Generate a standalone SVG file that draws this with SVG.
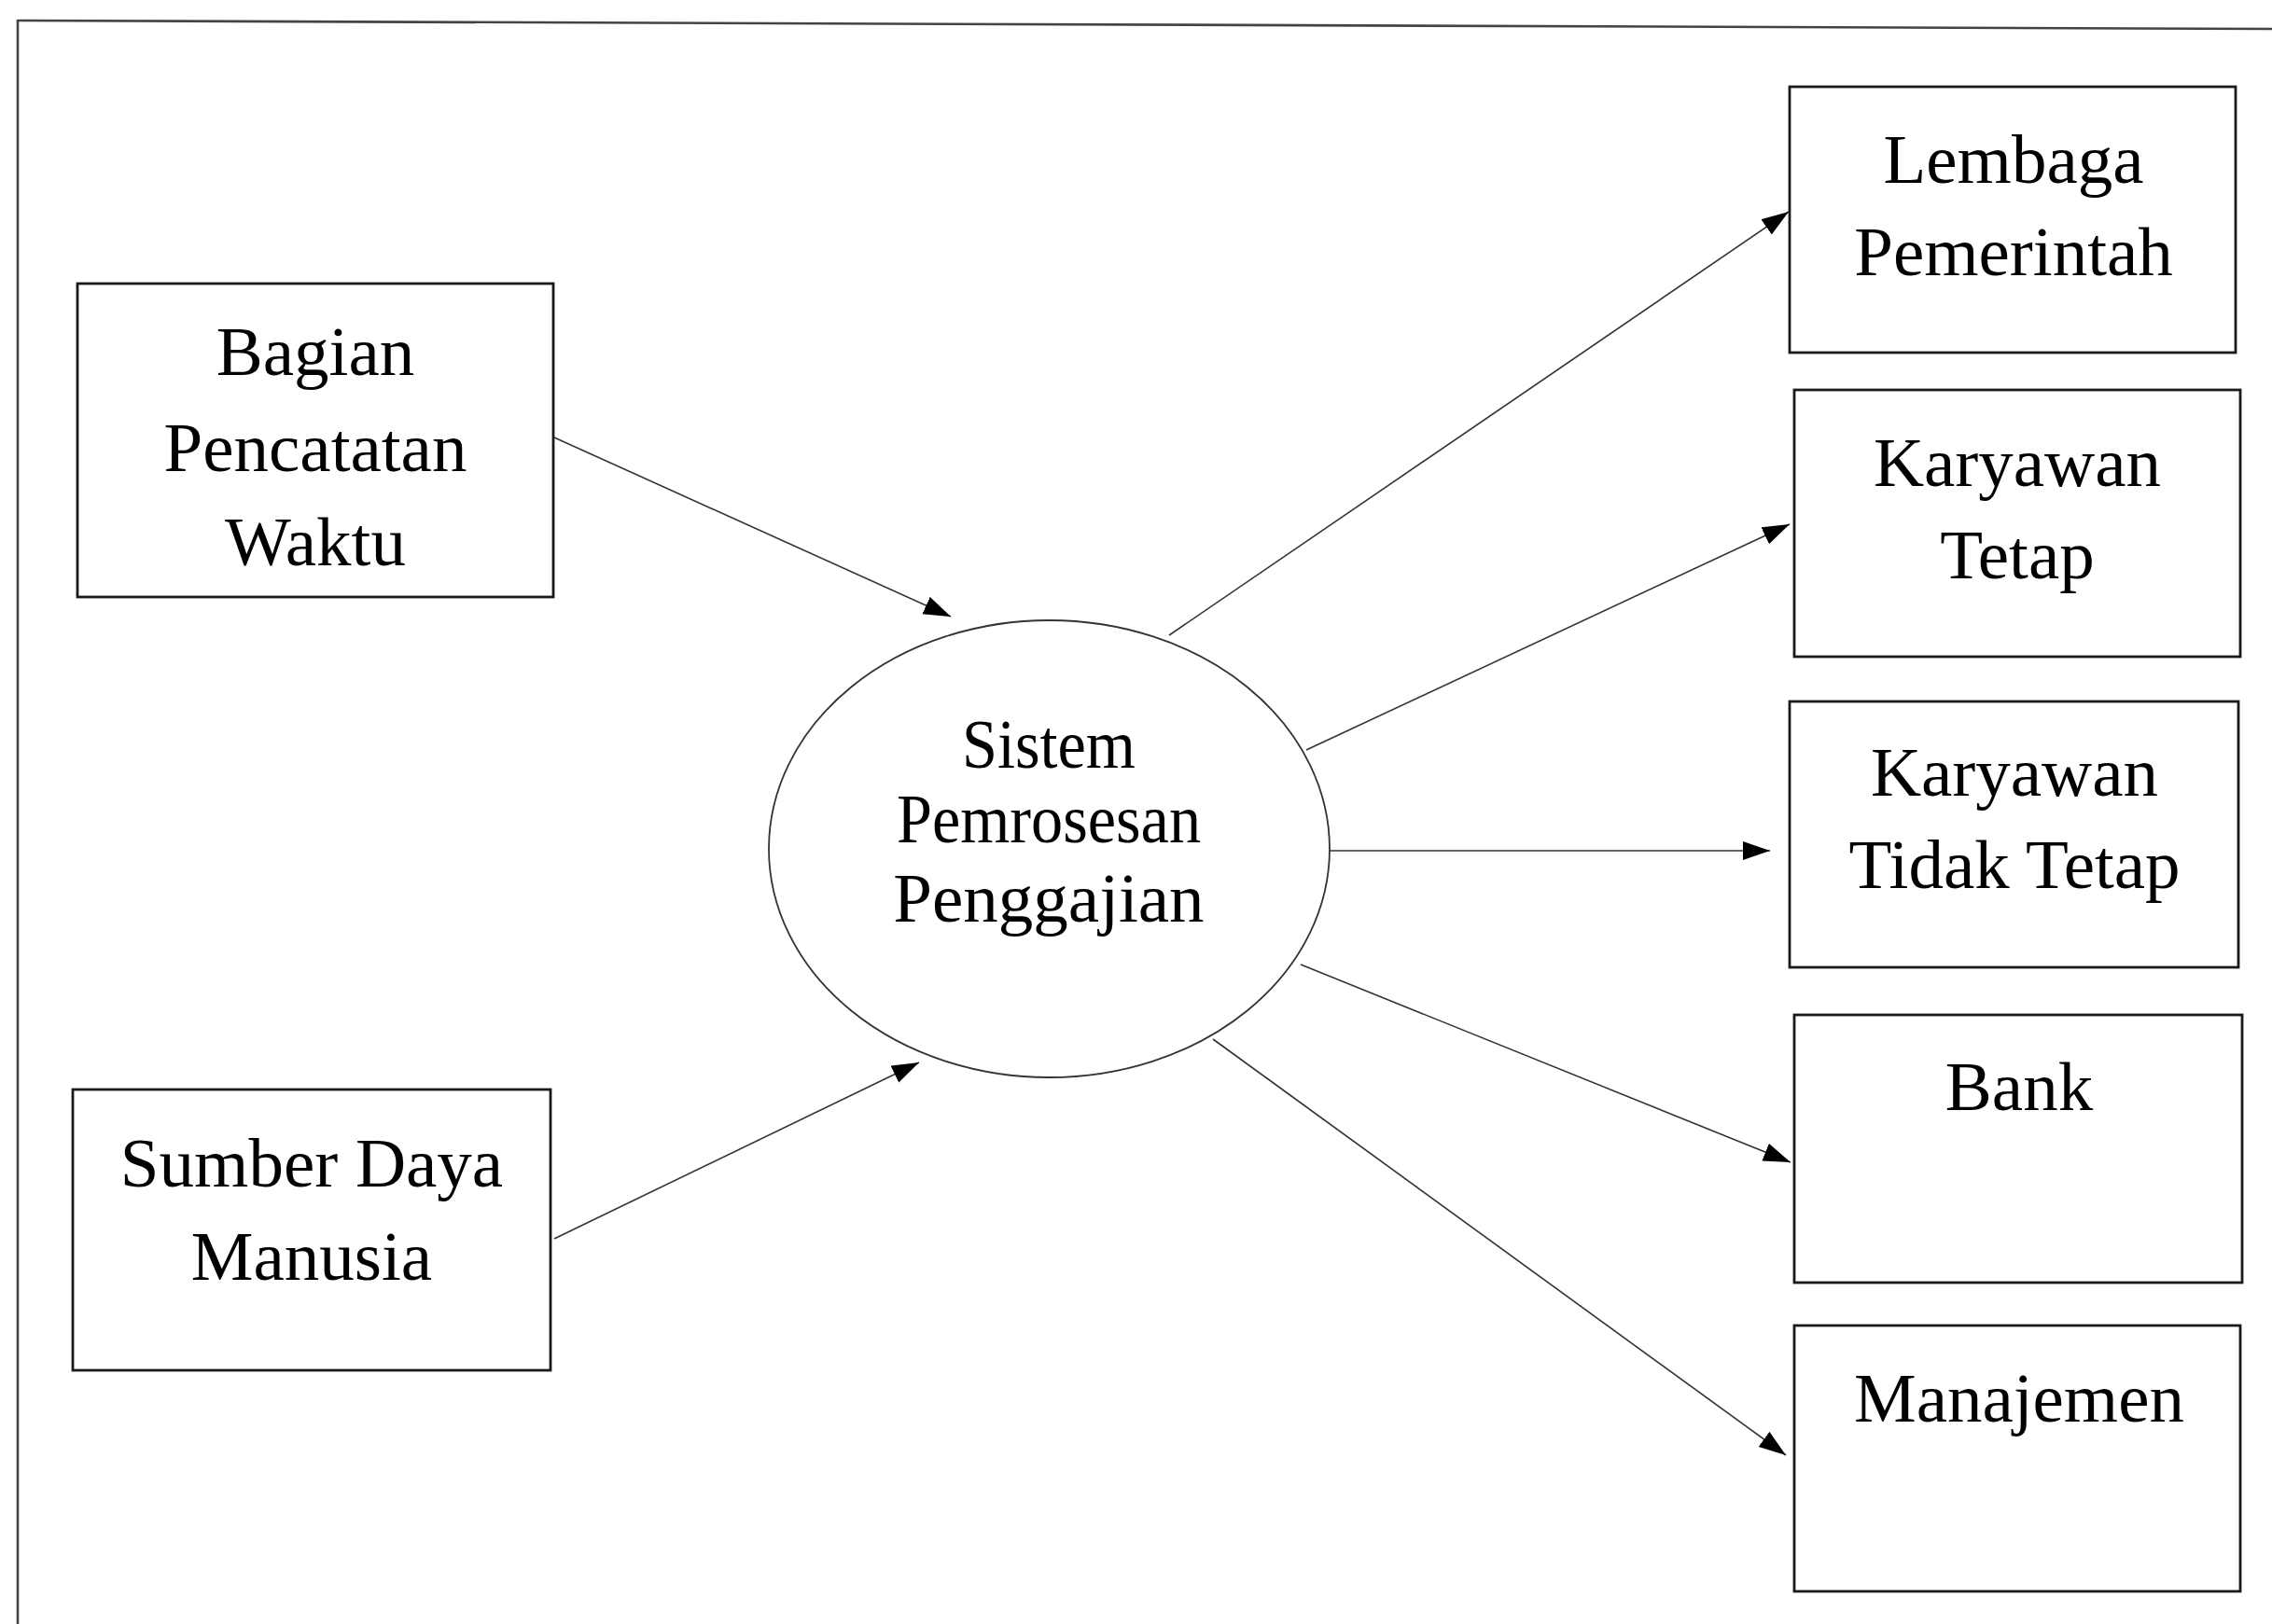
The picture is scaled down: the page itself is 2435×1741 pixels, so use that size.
<svg xmlns="http://www.w3.org/2000/svg" width="2435" height="1741" viewBox="0 0 2435 1741">
  <style>
    .box { fill: #ffffff; stroke: #1a1a1a; stroke-width: 2.8; }
    .proc { fill: #ffffff; stroke: #333333; stroke-width: 1.8; }
    .flow { fill: none; stroke: #333333; stroke-width: 1.6; marker-end: url(#head); }
    .lbl { font-family: "Liberation Serif", "Times New Roman", serif; font-size: 75px; fill: #000000; text-anchor: middle; }
    .frame { fill: none; stroke: #444444; stroke-width: 2.6; }
  </style>
  <defs>
    <marker id="head" markerUnits="userSpaceOnUse" markerWidth="32" markerHeight="22" refX="29" refY="10" orient="auto">
      <path d="M0,0 L29,10 L0,20 Z" fill="#000000"/>
    </marker>
  </defs>

  <rect width="2435" height="1741" fill="#ffffff"/>

  <!-- page frame: top rule and left edge -->
  <g id="frame">
    <line class="frame" x1="19" y1="22" x2="2435" y2="31" stroke="#777777"/>
    <line class="frame" x1="19" y1="21" x2="19" y2="1741"/>
  </g>

  <!-- data flows -->
  <g id="connectors">
    <line class="flow" x1="594" y1="469" x2="1019" y2="661"/>
    <line class="flow" x1="594" y1="1328" x2="985" y2="1139"/>
    <line class="flow" x1="1253" y1="681" x2="1917" y2="227"/>
    <line class="flow" x1="1400" y1="804" x2="1918" y2="562"/>
    <line class="flow" x1="1425" y1="912" x2="1897" y2="912"/>
    <line class="flow" x1="1394" y1="1034" x2="1919" y2="1246"/>
    <line class="flow" x1="1300" y1="1114" x2="1914" y2="1560"/>
  </g>

  <g id="bagian-pencatatan-waktu">
    <rect class="box" x="83" y="304" width="510" height="336"/>
    <text class="lbl" x="338" y="402">Bagian</text>
    <text class="lbl" x="338" y="505">Pencatatan</text>
    <text class="lbl" x="338" y="606">Waktu</text>
  </g>

  <g id="sumber-daya-manusia">
    <rect class="box" x="78" y="1168" width="512" height="301"/>
    <text class="lbl" x="334" y="1272">Sumber Daya</text>
    <text class="lbl" x="334" y="1372">Manusia</text>
  </g>

  <g id="sistem-pemrosesan-penggajian">
    <ellipse class="proc" cx="1124.5" cy="910" rx="300.5" ry="245"/>
    <text class="lbl" x="1124" y="823" font-size="70" textLength="186" lengthAdjust="spacingAndGlyphs">Sistem</text>
    <text class="lbl" x="1124" y="903" font-size="70" textLength="326" lengthAdjust="spacingAndGlyphs">Pemrosesan</text>
    <text class="lbl" x="1124" y="988">Penggajian</text>
  </g>

  <g id="lembaga-pemerintah">
    <rect class="box" x="1918" y="93" width="478" height="285"/>
    <text class="lbl" x="2158" y="196">Lembaga</text>
    <text class="lbl" x="2158" y="295">Pemerintah</text>
  </g>

  <g id="karyawan-tetap">
    <rect class="box" x="1923" y="418" width="478" height="286"/>
    <text class="lbl" x="2162" y="521">Karyawan</text>
    <text class="lbl" x="2162" y="620">Tetap</text>
  </g>

  <g id="karyawan-tidak-tetap">
    <rect class="box" x="1918" y="752" width="481" height="285"/>
    <text class="lbl" x="2159" y="853">Karyawan</text>
    <text class="lbl" x="2159" y="952">Tidak Tetap</text>
  </g>

  <g id="bank">
    <rect class="box" x="1923" y="1088" width="480" height="287"/>
    <text class="lbl" x="2164" y="1190">Bank</text>
  </g>

  <g id="manajemen">
    <rect class="box" x="1923" y="1421" width="478" height="285"/>
    <text class="lbl" x="2164" y="1524">Manajemen</text>
  </g>
</svg>
